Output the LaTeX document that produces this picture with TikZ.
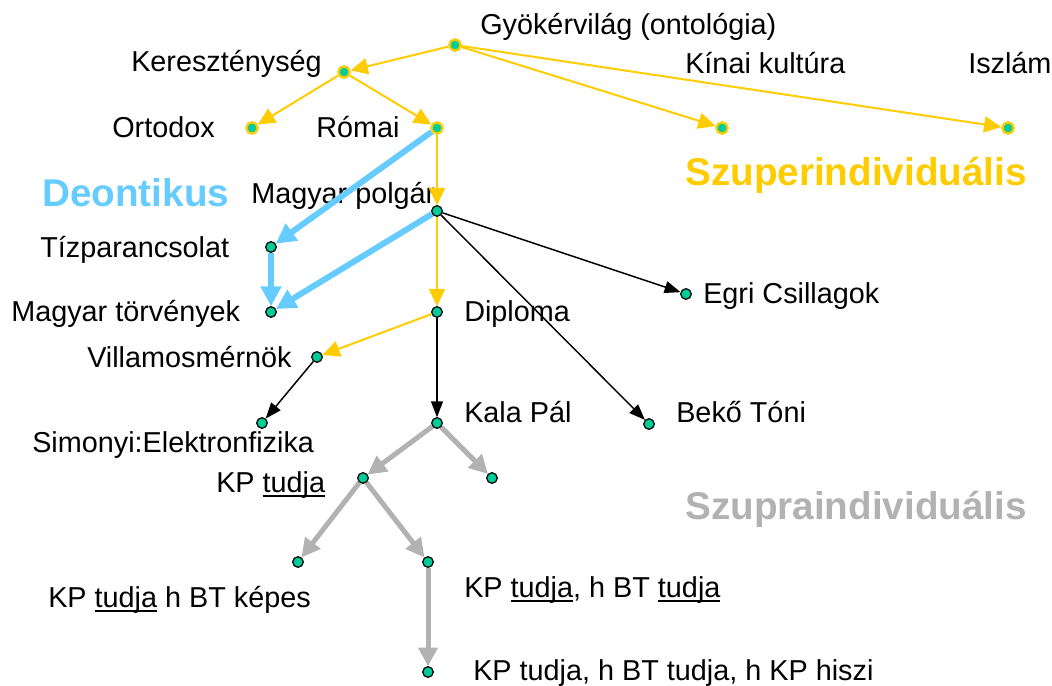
\documentclass[tikz,border=0pt]{standalone}
\usepackage{fontspec}
\setmainfont{Liberation Sans}
\usetikzlibrary{arrows.meta}
\definecolor{gold}{HTML}{FFCC00}
\definecolor{skyblue}{HTML}{66CCFF}
\definecolor{lightgray}{HTML}{B2B2B2}
\definecolor{dotgreen}{HTML}{00CC99}
% underline set close to the baseline
\newcommand\ulword[1]{\setbox0\hbox{#1}\rlap{\rule[-3.9pt]{\wd0}{1.4pt}}#1}
\begin{document}
\begin{tikzpicture}[x=0.75pt,y=-0.75pt,
  dot/.style={circle,fill=dotgreen,draw=black,line width=0.8pt,inner sep=0pt,minimum size=7.8pt},
  topdot/.style={dot,draw=gold,line width=1.6pt,minimum size=8.4pt},
  lbl/.style={anchor=base west,inner sep=0pt,font=\fontsize{21.6}{26}\selectfont},
  big/.style={anchor=base west,inner sep=0pt,font=\fontsize{29}{34}\selectfont\bfseries},
  ylw/.style={draw=gold,line width=1.5pt,-{Triangle[length=13pt,width=12pt]}},
  blu/.style={draw=skyblue,line width=4.5pt,-{Triangle[length=15pt,width=15pt]}},
  blk/.style={draw=black,line width=1.1pt,-{Triangle[length=12pt,width=9pt]}},
  gry/.style={draw=lightgray,line width=3.75pt,-{Triangle[length=14pt,width=14pt]}}
]
\useasboundingbox (0,0) rectangle (1052,685);

% dots
\node[topdot] (root) at (455,45) {};
\node[topdot] (ker) at (344,72) {};
\node[topdot] (orto) at (252,128) {};
\node[topdot] (romai) at (437,128) {};
\node[topdot] (kinai) at (722,128) {};
\node[topdot] (iszlam) at (1008,128) {};
\node[dot] (mp) at (437,211) {};
\node[dot] (tiz) at (271,247) {};
\node[dot] (mt) at (271,312) {};
\node[dot] (dipl) at (437,312) {};
\node[dot] (egri) at (686,294) {};
\node[dot] (vill) at (317,357) {};
\node[dot] (simo) at (262,423) {};
\node[dot] (kala) at (437,423) {};
\node[dot] (beko) at (649,424) {};
\node[dot] (kpt) at (363,478) {};
\node[dot] (rgt) at (492,478) {};
\node[dot] (kpk) at (298,562) {};
\node[dot] (kpb) at (428,562) {};
\node[dot] (kph) at (428,672) {};

% labels
\node[lbl] (tRoot) at (480,35) {Gyökérvilág (ontológia)};
\node[lbl] (tKer) at (131,72) {Kereszténység};
\node[lbl] (tKinai) at (685,74) {Kínai kultúra};
\node[lbl] (tIszlam) at (968,74) {Iszlám};
\node[lbl] (tOrto) at (112,137) {Ortodox};
\node[lbl] (tRomai) at (316,137) {Római};
\node[big,text=gold] (tSzuper) at (685,185) {Szuperindividuális};
\node[big,text=skyblue] (tDeon) at (42,206) {Deontikus};
\node[lbl] (tMp) at (251,203) {Magyar polgár};
\node[lbl] (tTiz) at (40,257) {Tízparancsolat};
\node[lbl] (tMt) at (11,321) {Magyar törvények};
\node[lbl] (tDipl) at (464,321) {Diploma};
\node[lbl] (tEgri) at (703,303) {Egri Csillagok};
\node[lbl] (tVill) at (87,367) {Villamosmérnök};
\node[lbl] (tKala) at (464,422) {Kala Pál};
\node[lbl] (tBeko) at (676,422) {Bekő Tóni};
\node[lbl] (tSimo) at (32,452) {Simonyi:Elektronfizika};
\node[lbl] (tKpt) at (216,492) {KP \ulword{tudja}};
\node[big,text=lightgray] (tSzupra) at (685,519) {Szupraindividuális};
\node[lbl] (tKpk) at (48,607) {KP \ulword{tudja} h BT képes};
\node[lbl] (tKpb) at (464,597) {KP \ulword{tudja}, h BT \ulword{tudja}};
\node[lbl] (tKph) at (473,680) {KP tudja, h BT tudja, h KP hiszi};

% yellow arrows
\draw[ylw] (root) -- (ker);
\draw[ylw] (root) -- (kinai);
\draw[ylw] (root) -- (iszlam);
\draw[ylw] (ker) -- (orto);
\draw[ylw] (ker) -- (romai);
\draw[ylw] (romai) -- (mp);
\draw[ylw] (mp) -- (dipl);
\draw[ylw] (dipl) -- (vill);

% blue arrows
\draw[blu] (romai) -- (tiz);
\draw[blu] (tiz) -- (mt);
\draw[blu] (mp) -- (mt);

% black arrows
\draw[blk] (mp) -- (egri);
\draw[blk] (mp) -- (beko);
\draw[blk] (dipl) -- (kala);
\draw[blk] (vill) -- (simo);

% gray arrows
\draw[gry] (kala) -- (kpt);
\draw[gry] (kala) -- (rgt);
\draw[gry] (kpt) -- (kpk);
\draw[gry] (kpt) -- (kpb);
\draw[gry] (kpb) -- (kph);

% dots on top of the connectors
\foreach \n in {root,ker,orto,romai,kinai,iszlam}{\node[topdot] at (\n) {};}
\foreach \n in {mp,tiz,mt,dipl,egri,vill,simo,kala,beko,kpt,rgt,kpk,kpb,kph}{\node[dot] at (\n) {};}
\end{tikzpicture}
\end{document}
